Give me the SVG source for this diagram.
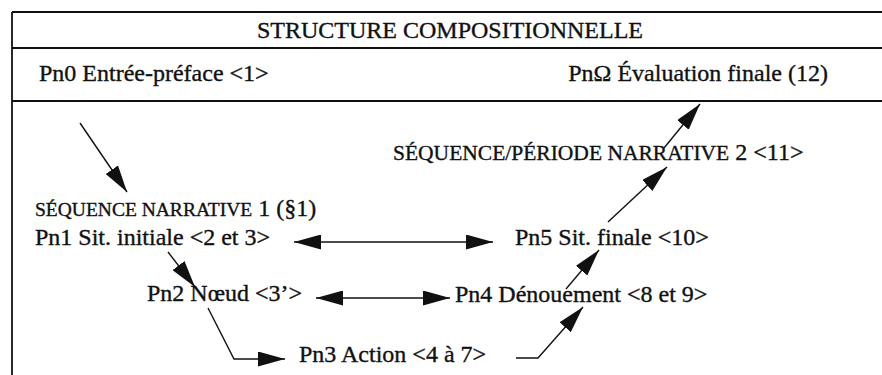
<svg xmlns="http://www.w3.org/2000/svg" width="882" height="375" viewBox="0 0 882 375">
  <style>
    .t { font-family: "Liberation Serif", "Times New Roman", serif; font-size: 24px; fill: #111; stroke: #111; stroke-width: 0.35px; }
    .sc1 { font-size: 19.5px; }
    .sc2 { font-size: 21.5px; }
    .rule { stroke: #111; stroke-width: 1.8; fill: none; }
    .link { stroke: #111; stroke-width: 1.4; fill: none; }
  </style>
  <defs>
    <marker id="head" viewBox="0 0 27 15" refX="27" refY="7.5" markerWidth="27" markerHeight="15" markerUnits="userSpaceOnUse" orient="auto-start-reverse">
      <path d="M0,0 L27,7.5 L0,15 Z" fill="#111"/>
    </marker>
  </defs>
  <rect width="882" height="375" fill="#fff"/>

  <!-- table frame -->
  <g id="frame">
    <line class="rule" x1="12" y1="12" x2="882" y2="12"/>
    <line class="rule" x1="12" y1="48" x2="882" y2="48"/>
    <line class="rule" x1="12" y1="101" x2="882" y2="101"/>
    <line class="rule" x1="12" y1="12" x2="12" y2="375"/>
  </g>

  <g id="title"><text class="t" x="450" y="38" text-anchor="middle">STRUCTURE COMPOSITIONNELLE</text></g>
  <g id="pn0"><text class="t" x="39" y="81">Pn0 Entrée-préface &lt;1&gt;</text></g>
  <g id="pnomega"><text class="t" x="828" y="81" text-anchor="end">PnΩ Évaluation finale (12)</text></g>
  <g id="seq2"><text class="t" x="393" y="160"><tspan class="sc2">SÉQUENCE/PÉRIODE NARRATIVE</tspan> 2 &lt;11&gt;</text></g>
  <g id="seq1"><text class="t" x="35" y="216"><tspan class="sc1">SÉQUENCE NARRATIVE</tspan> 1 (§1)</text></g>
  <g id="pn1"><text class="t" x="35" y="245">Pn1 Sit. initiale &lt;2 et 3&gt;</text></g>
  <g id="pn5"><text class="t" x="515" y="245">Pn5 Sit. finale &lt;10&gt;</text></g>
  <g id="pn2"><text class="t" x="147" y="301">Pn2 Nœud &lt;3’&gt;</text></g>
  <g id="pn4"><text class="t" x="455" y="302">Pn4 Dénouement &lt;8 et 9&gt;</text></g>
  <g id="pn3"><text class="t" x="299" y="362">Pn3 Action &lt;4 à 7&gt;</text></g>

  <g id="connectors">
    <line class="link" x1="80" y1="123" x2="127" y2="192" marker-end="url(#head)"/>
    <line class="link" x1="168" y1="252" x2="195" y2="287" marker-end="url(#head)"/>
    <polyline class="link" points="208,308 234,359 285,359" marker-end="url(#head)"/>
    <line class="link" x1="294" y1="242" x2="493" y2="242" marker-start="url(#head)" marker-end="url(#head)"/>
    <line class="link" x1="316" y1="298" x2="450" y2="298" marker-start="url(#head)" marker-end="url(#head)"/>
    <polyline class="link" points="516,358 538,358 583,307" marker-end="url(#head)"/>
    <line class="link" x1="566" y1="289" x2="599" y2="250" marker-end="url(#head)"/>
    <line class="link" x1="608" y1="222" x2="667" y2="167" marker-end="url(#head)"/>
    <line class="link" x1="664" y1="148" x2="700" y2="104" marker-end="url(#head)"/>
  </g>
</svg>
